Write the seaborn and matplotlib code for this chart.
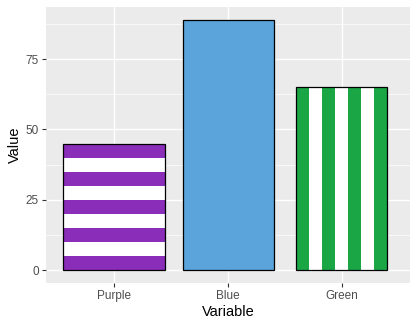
import matplotlib
matplotlib.use("Agg")
import matplotlib.pyplot as plt
from matplotlib.patches import Rectangle
from matplotlib.ticker import MultipleLocator
import seaborn as sns
import pandas as pd

categories = ["Purple", "Blue", "Green"]
values = [45, 89, 65]
colors = ["#8A2DB8", "#5BA4DB", "#1BA646"]
patterns = ["hstripe", "solid", "vstripe"]
bar_widths = [0.9, 0.8, 0.8]

df = pd.DataFrame({"Variable": categories, "Value": values})

sns.set_theme(style="darkgrid")
plt.rcParams["font.family"] = ["Liberation Sans", "DejaVu Sans"]

fig = plt.figure(figsize=(4.19, 3.29), dpi=100)
ax = fig.add_axes([46/419, (329-283)/329, (410-46)/419, (283-7)/329])
ax.set_facecolor("#EBEBEB")

sns.barplot(data=df, x="Variable", y="Value", hue="Variable", palette=colors,
            order=categories, hue_order=categories, width=0.9, legend=False,
            saturation=1, edgecolor="none", linewidth=0, ax=ax, zorder=2)

for bar, pat, bw in zip(ax.patches, patterns, bar_widths):
    cx = bar.get_x() + bar.get_width() / 2
    bar.set_width(bw)
    bar.set_x(cx - bw / 2)
    x0, y0 = bar.get_x(), bar.get_y()
    w, h = bar.get_width(), bar.get_height()
    if pat == "hstripe":
        n = 9
        for i in range(1, n, 2):
            ax.add_patch(Rectangle((x0, y0 + i*h/n), w, h/n, facecolor="white",
                                   edgecolor="none", zorder=3))
    elif pat == "vstripe":
        n = 7
        for i in range(1, n, 2):
            ax.add_patch(Rectangle((x0 + i*w/n, y0), w/n, h, facecolor="white",
                                   edgecolor="none", zorder=3))
    ax.add_patch(Rectangle((x0, y0), w, h, fill=False, edgecolor="black",
                           linewidth=0.9, zorder=4))

ax.set_xlim(-0.6, 2.6)
ymax = max(values)
ax.set_ylim(-0.05*ymax, 1.05*ymax)
ax.yaxis.set_major_locator(MultipleLocator(25))
ax.yaxis.set_minor_locator(MultipleLocator(12.5))
ax.grid(which="major", color="white", linewidth=1.0)
ax.grid(which="minor", axis="y", color="white", linewidth=0.5)
ax.set_axisbelow(True)
for s in ax.spines.values():
    s.set_visible(False)

ax.tick_params(axis="both", which="major", length=3, width=0.8, color="#333333",
               labelcolor="#4D4D4D", labelsize=8.5, pad=2, bottom=True, left=True)
ax.tick_params(axis="both", which="minor", length=0)
ax.set_xlabel("Variable", fontsize=10.5, color="black", labelpad=2)
ax.set_ylabel("Value", fontsize=10.5, color="black", labelpad=3)

fig.savefig("out.png", dpi=100, facecolor="white")
